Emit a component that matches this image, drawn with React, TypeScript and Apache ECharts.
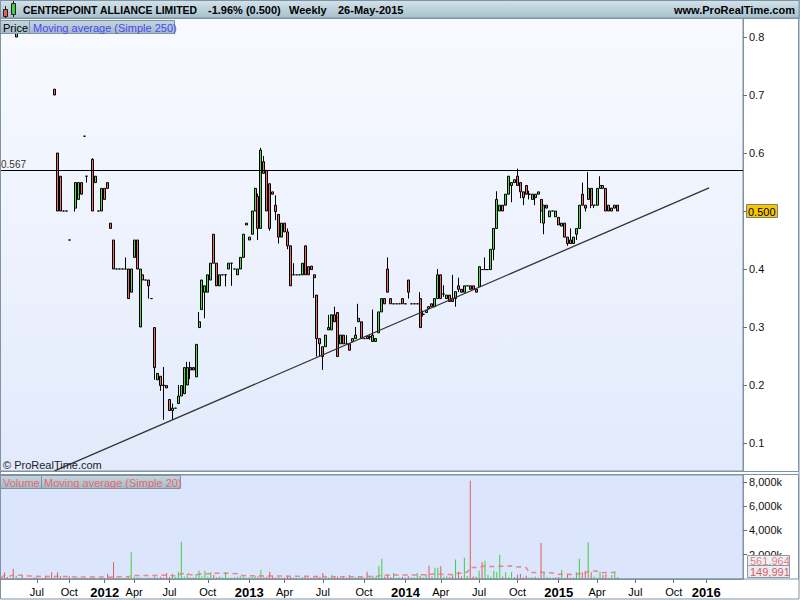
import React, { useEffect, useRef } from 'react';
import * as echarts from 'echarts';

// ---------- data ----------
const N_BARS = 252;
const xTickIndex = [12, 23, 35, 45, 57, 70, 84, 96, 109, 123, 137, 149, 162, 175, 189, 202, 215, 228, 239];
const xTickLabel = ['Jul', 'Oct', '2012', 'Apr', 'Jul', 'Oct', '2013', 'Apr', 'Jul', 'Oct', '2014', 'Apr', 'Jul', 'Oct', '2015', 'Apr', 'Jul', 'Oct', '2016'];
const priceTicks = [0.1, 0.2, 0.3, 0.4, 0.5, 0.6, 0.7, 0.8];
const volumeTicks = [2000, 4000, 6000, 8000];

// [barIndex, open, high, low, close]
const candles: number[][] = [
  [5, 0.800, 0.812, 0.800, 0.807], [18, 0.710, 0.710, 0.700, 0.700], [19, 0.600, 0.600, 0.500, 0.500],
  [20, 0.560, 0.560, 0.500, 0.500], [21, 0.500, 0.500, 0.500, 0.500], [22, 0.500, 0.500, 0.500, 0.500],
  [23, 0.450, 0.450, 0.450, 0.450], [25, 0.505, 0.549, 0.499, 0.549], [26, 0.520, 0.549, 0.520, 0.549],
  [27, 0.549, 0.549, 0.529, 0.529], [28, 0.629, 0.629, 0.629, 0.629], [29, 0.560, 0.560, 0.549, 0.560],
  [31, 0.589, 0.591, 0.500, 0.500], [32, 0.549, 0.560, 0.549, 0.560], [33, 0.500, 0.500, 0.500, 0.500],
  [34, 0.500, 0.539, 0.500, 0.539], [35, 0.539, 0.539, 0.520, 0.520], [36, 0.549, 0.549, 0.539, 0.539],
  [37, 0.479, 0.479, 0.470, 0.470], [38, 0.450, 0.450, 0.400, 0.400], [39, 0.400, 0.400, 0.400, 0.400],
  [40, 0.400, 0.400, 0.400, 0.400], [41, 0.400, 0.400, 0.400, 0.400], [42, 0.400, 0.420, 0.400, 0.400],
  [43, 0.400, 0.400, 0.349, 0.349], [44, 0.360, 0.400, 0.360, 0.400], [45, 0.420, 0.450, 0.420, 0.450],
  [46, 0.450, 0.450, 0.400, 0.400], [47, 0.300, 0.400, 0.300, 0.400], [48, 0.390, 0.390, 0.381, 0.381],
  [49, 0.381, 0.381, 0.381, 0.381], [50, 0.381, 0.381, 0.349, 0.371], [51, 0.349, 0.349, 0.349, 0.349],
  [52, 0.299, 0.299, 0.209, 0.230], [53, 0.209, 0.220, 0.209, 0.220], [54, 0.215, 0.215, 0.190, 0.199],
  [55, 0.200, 0.231, 0.140, 0.199], [56, 0.199, 0.199, 0.195, 0.195], [57, 0.175, 0.175, 0.156, 0.156],
  [58, 0.156, 0.168, 0.140, 0.160], [59, 0.160, 0.160, 0.160, 0.160], [60, 0.168, 0.200, 0.168, 0.181],
  [61, 0.181, 0.199, 0.181, 0.199], [62, 0.185, 0.230, 0.185, 0.230], [63, 0.200, 0.240, 0.200, 0.230],
  [64, 0.230, 0.240, 0.210, 0.226], [65, 0.230, 0.230, 0.226, 0.226], [66, 0.214, 0.270, 0.214, 0.270],
  [67, 0.299, 0.326, 0.299, 0.309], [68, 0.330, 0.381, 0.330, 0.381], [69, 0.360, 0.371, 0.315, 0.371],
  [70, 0.360, 0.390, 0.360, 0.390], [71, 0.381, 0.410, 0.381, 0.410], [72, 0.460, 0.460, 0.410, 0.410],
  [73, 0.410, 0.410, 0.371, 0.371], [74, 0.371, 0.390, 0.371, 0.390], [75, 0.390, 0.390, 0.390, 0.390],
  [76, 0.390, 0.390, 0.370, 0.390], [77, 0.400, 0.410, 0.400, 0.410], [78, 0.410, 0.410, 0.371, 0.410],
  [79, 0.400, 0.400, 0.400, 0.400], [80, 0.390, 0.400, 0.390, 0.400], [81, 0.400, 0.420, 0.400, 0.420],
  [82, 0.420, 0.460, 0.420, 0.460], [83, 0.479, 0.479, 0.476, 0.476], [84, 0.450, 0.455, 0.450, 0.455],
  [85, 0.460, 0.500, 0.460, 0.500], [86, 0.500, 0.540, 0.500, 0.539], [87, 0.525, 0.530, 0.450, 0.470],
  [88, 0.470, 0.609, 0.470, 0.605], [89, 0.585, 0.595, 0.565, 0.565], [90, 0.570, 0.570, 0.500, 0.500],
  [91, 0.547, 0.547, 0.466, 0.470], [92, 0.533, 0.533, 0.529, 0.529], [93, 0.510, 0.527, 0.484, 0.499],
  [94, 0.494, 0.494, 0.444, 0.455], [95, 0.455, 0.479, 0.455, 0.479], [96, 0.479, 0.479, 0.464, 0.464],
  [97, 0.464, 0.470, 0.434, 0.440], [98, 0.440, 0.440, 0.371, 0.371], [99, 0.390, 0.410, 0.390, 0.390],
  [100, 0.390, 0.390, 0.390, 0.390], [101, 0.390, 0.390, 0.390, 0.390], [102, 0.390, 0.410, 0.390, 0.410],
  [103, 0.440, 0.440, 0.390, 0.390], [104, 0.404, 0.404, 0.390, 0.390], [105, 0.405, 0.405, 0.399, 0.399],
  [106, 0.390, 0.390, 0.350, 0.385], [107, 0.355, 0.355, 0.249, 0.280], [108, 0.280, 0.280, 0.249, 0.271],
  [109, 0.266, 0.266, 0.226, 0.249], [110, 0.266, 0.286, 0.266, 0.286], [111, 0.295, 0.321, 0.295, 0.299],
  [112, 0.295, 0.321, 0.295, 0.321], [113, 0.321, 0.335, 0.309, 0.309], [114, 0.325, 0.325, 0.249, 0.249],
  [115, 0.271, 0.286, 0.271, 0.286], [116, 0.286, 0.286, 0.271, 0.271], [117, 0.271, 0.286, 0.271, 0.271],
  [118, 0.271, 0.271, 0.260, 0.260], [119, 0.275, 0.280, 0.275, 0.280], [120, 0.280, 0.300, 0.280, 0.286],
  [121, 0.309, 0.340, 0.309, 0.315], [122, 0.309, 0.309, 0.280, 0.280], [123, 0.280, 0.280, 0.280, 0.280],
  [124, 0.284, 0.284, 0.280, 0.280], [125, 0.283, 0.286, 0.278, 0.283], [126, 0.275, 0.330, 0.275, 0.286],
  [127, 0.275, 0.280, 0.275, 0.280], [128, 0.290, 0.326, 0.290, 0.326], [129, 0.326, 0.349, 0.326, 0.349],
  [130, 0.349, 0.349, 0.340, 0.340], [131, 0.400, 0.420, 0.360, 0.360], [132, 0.349, 0.349, 0.340, 0.340],
  [133, 0.340, 0.340, 0.340, 0.340], [134, 0.340, 0.340, 0.340, 0.340], [135, 0.340, 0.340, 0.340, 0.340],
  [136, 0.349, 0.349, 0.340, 0.340], [137, 0.340, 0.340, 0.340, 0.340], [138, 0.381, 0.381, 0.349, 0.360],
  [139, 0.340, 0.340, 0.340, 0.340], [140, 0.340, 0.340, 0.340, 0.340], [141, 0.340, 0.340, 0.340, 0.340],
  [142, 0.349, 0.360, 0.299, 0.299], [143, 0.322, 0.328, 0.318, 0.322], [144, 0.325, 0.329, 0.325, 0.329],
  [145, 0.335, 0.335, 0.332, 0.332], [146, 0.340, 0.340, 0.335, 0.335], [147, 0.335, 0.349, 0.335, 0.349],
  [148, 0.349, 0.400, 0.349, 0.390], [149, 0.390, 0.390, 0.349, 0.349], [150, 0.357, 0.372, 0.352, 0.357],
  [151, 0.349, 0.355, 0.349, 0.355], [152, 0.355, 0.355, 0.344, 0.344], [153, 0.349, 0.390, 0.344, 0.344],
  [154, 0.349, 0.361, 0.335, 0.361], [155, 0.371, 0.385, 0.360, 0.365], [156, 0.365, 0.365, 0.360, 0.360],
  [157, 0.360, 0.371, 0.360, 0.371], [158, 0.371, 0.371, 0.371, 0.371], [159, 0.371, 0.371, 0.365, 0.365],
  [160, 0.371, 0.371, 0.365, 0.365], [161, 0.365, 0.365, 0.360, 0.360], [162, 0.370, 0.404, 0.370, 0.404],
  [163, 0.399, 0.399, 0.399, 0.399], [164, 0.399, 0.420, 0.399, 0.399], [165, 0.399, 0.399, 0.399, 0.399],
  [166, 0.399, 0.434, 0.399, 0.434], [167, 0.434, 0.470, 0.415, 0.470], [168, 0.470, 0.534, 0.470, 0.520],
  [169, 0.500, 0.510, 0.500, 0.510], [170, 0.510, 0.510, 0.500, 0.500], [171, 0.510, 0.529, 0.510, 0.529],
  [172, 0.529, 0.560, 0.529, 0.560], [173, 0.544, 0.549, 0.515, 0.549], [174, 0.549, 0.554, 0.549, 0.554],
  [175, 0.560, 0.573, 0.544, 0.544], [176, 0.549, 0.549, 0.522, 0.533], [177, 0.533, 0.533, 0.510, 0.523],
  [178, 0.544, 0.544, 0.529, 0.529], [179, 0.529, 0.535, 0.520, 0.529], [180, 0.520, 0.529, 0.520, 0.529],
  [181, 0.529, 0.529, 0.510, 0.523], [182, 0.529, 0.533, 0.529, 0.533], [183, 0.520, 0.520, 0.479, 0.500],
  [184, 0.479, 0.510, 0.460, 0.510], [185, 0.510, 0.510, 0.505, 0.505], [186, 0.490, 0.500, 0.490, 0.500],
  [187, 0.500, 0.500, 0.500, 0.500], [188, 0.490, 0.500, 0.490, 0.500], [189, 0.489, 0.489, 0.476, 0.476],
  [190, 0.474, 0.479, 0.474, 0.479], [191, 0.479, 0.479, 0.455, 0.455], [192, 0.455, 0.455, 0.440, 0.444],
  [193, 0.450, 0.470, 0.444, 0.444], [194, 0.444, 0.455, 0.444, 0.455], [195, 0.460, 0.470, 0.450, 0.470],
  [196, 0.470, 0.510, 0.470, 0.510], [197, 0.529, 0.549, 0.510, 0.510], [198, 0.510, 0.510, 0.499, 0.505],
  [199, 0.520, 0.567, 0.520, 0.539], [200, 0.539, 0.539, 0.505, 0.510], [201, 0.510, 0.510, 0.505, 0.510],
  [202, 0.510, 0.539, 0.510, 0.539], [203, 0.539, 0.560, 0.539, 0.544], [204, 0.544, 0.544, 0.539, 0.539],
  [205, 0.539, 0.539, 0.500, 0.500], [206, 0.510, 0.510, 0.500, 0.500], [207, 0.500, 0.505, 0.500, 0.505],
  [208, 0.505, 0.510, 0.505, 0.510], [209, 0.510, 0.510, 0.500, 0.500],
];

// weekly volume in thousands, index = bar index
const volumes = [
  120, 550, 165, 90, 850, 275, 80, 275, 60, 90,
  70, 137, 137, 60, 80, 275, 90, 550, 120, 550,
  220, 80, 100, 220, 60, 137, 120, 90, 70, 80,
  60, 150, 90, 70, 110, 80, 440, 90, 1375, 120,
  80, 100, 70, 150, 2200, 180, 120, 150, 90, 110,
  130, 80, 200, 150, 180, 120, 500, 160, 440, 150,
  600, 3080, 200, 410, 150, 120, 410, 690, 220, 690,
  180, 550, 330, 150, 200, 120, 550, 130, 110, 150,
  180, 220, 200, 120, 150, 180, 250, 200, 770, 150,
  180, 600, 275, 120, 150, 100, 130, 275, 160, 120,
  110, 90, 160, 200, 120, 100, 150, 220, 180, 500,
  160, 120, 330, 150, 200, 100, 140, 120, 330, 110,
  150, 180, 160, 120, 600, 140, 275, 160, 1100, 1680,
  200, 250, 160, 500, 110, 120, 180, 100, 220, 120,
  140, 500, 260, 150, 410, 1100, 200, 935, 935, 1045,
  180, 220, 160, 300, 1600, 600, 200, 1760, 250, 8100,
  200, 180, 690, 1380, 1500, 330, 180, 690, 550, 2000,
  200, 550, 160, 550, 150, 360, 410, 140, 275, 120,
  150, 180, 130, 2970, 600, 150, 120, 100, 140, 160,
  770, 80, 410, 100, 120, 550, 1680, 550, 690, 3030,
  550, 200, 100, 600, 330, 410, 90, 330, 500, 150,
];

const resistanceLevel = 0.567;
const lastClose = 0.5;
const trendLine: number[][] = [[18, 0.052], [240, 0.54]];
const maPeriod = 20;
const maLabel = '561,964';
const lastVolumeLabel = '149,991';

// ---------- style ----------
const FONT = '"Liberation Sans", Arial, sans-serif';
const UP = '#4cdc4c';
const DOWN = '#ec6a6a';
const FRAME = '#7e93a4';

export default function App() {
  const ref = useRef<HTMLDivElement>(null);

  useEffect(() => {
    if (!ref.current) return;
    const chart = echarts.init(ref.current, undefined, { renderer: 'svg' });

    const categories = Array.from({ length: N_BARS }, (_, i) => String(i));
    const tickMap = new Map<number, string>();
    xTickIndex.forEach((ix, k) => tickMap.set(ix, xTickLabel[k]));

    const candleData = candles.map(([i, o, h, l, c]) => [i, o, c, Math.min(l, o, c), Math.max(h, o, c)]);
    const closeByIdx = new Map<number, number[]>();
    candles.forEach(([i, o, , , c]) => closeByIdx.set(i, [o, c]));

    let prevClose = 0;
    const volData = volumes.map((v, i) => {
      const oc = closeByIdx.get(i);
      let up = false;
      if (oc) {
        up = oc[1] > oc[0] || (oc[1] === oc[0] && oc[1] >= prevClose);
        prevClose = oc[1];
      }
      return { value: [i, v], itemStyle: { color: up ? '#3fcf3f' : '#e45a5a' } };
    });

    const maData = volumes.map((_, i) => {
      const start = Math.max(0, i - maPeriod + 1);
      const win = volumes.slice(start, i + 1);
      return [i, win.reduce((a, b) => a + b, 0) / win.length];
    });

    const legendBoxFill = {
      type: 'linear', x: 0, y: 0, x2: 0, y2: 1,
      colorStops: [{ offset: 0, color: '#c6d5df' }, { offset: 1, color: '#a4bac8' }],
    };

    const graphic: any[] = [
      // header
      {
        type: 'rect', shape: { x: 0, y: 0, width: 800, height: 18 }, z: 90,
        style: {
          fill: { type: 'linear', x: 0, y: 0, x2: 0, y2: 1, colorStops: [{ offset: 0, color: '#d4e3ea' }, { offset: 1, color: '#a6c0cd' }] },
          stroke: FRAME, lineWidth: 1,
        },
      },
      { type: 'line', shape: { x1: 5.5, y1: 6, x2: 5.5, y2: 18 }, style: { stroke: '#222', lineWidth: 1 }, z: 91 },
      { type: 'rect', shape: { x: 3.5, y: 9.5, width: 4, height: 7 }, style: { fill: '#e85c5c', stroke: '#222', lineWidth: 1 }, z: 92 },
      { type: 'line', shape: { x1: 13.5, y1: 1, x2: 13.5, y2: 17 }, style: { stroke: '#222', lineWidth: 1 }, z: 91 },
      { type: 'rect', shape: { x: 11.5, y: 3.5, width: 4, height: 11 }, style: { fill: '#3ed23e', stroke: '#222', lineWidth: 1 }, z: 92 },
      { type: 'text', x: 23, y: 10, z: 92, style: { text: 'CENTREPOINT ALLIANCE LIMITED', fill: '#000', font: `bold 10.4px ${FONT}`, verticalAlign: 'middle' } },
      { type: 'text', x: 208, y: 10, z: 92, style: { text: '-1.96% (0.500)', fill: '#000', font: `bold 11px ${FONT}`, verticalAlign: 'middle' } },
      { type: 'text', x: 289, y: 10, z: 92, style: { text: 'Weekly', fill: '#000', font: `bold 11px ${FONT}`, verticalAlign: 'middle' } },
      { type: 'text', x: 338, y: 10, z: 92, style: { text: '26-May-2015', fill: '#000', font: `bold 11px ${FONT}`, verticalAlign: 'middle' } },
      { type: 'text', x: 795, y: 10, z: 92, style: { text: 'www.ProRealTime.com', fill: '#000', font: `bold 11px ${FONT}`, verticalAlign: 'middle', align: 'right' } },
      // price legend
      { type: 'rect', shape: { x: 0.5, y: 20.5, width: 29, height: 13 }, z: 95, style: { fill: legendBoxFill, stroke: FRAME, lineWidth: 1 } },
      { type: 'text', x: 3, y: 27.5, z: 96, style: { text: 'Price', fill: '#000', font: `11px ${FONT}`, verticalAlign: 'middle' } },
      { type: 'rect', shape: { x: 29.5, y: 20.5, width: 145, height: 13 }, z: 95, style: { fill: legendBoxFill, stroke: FRAME, lineWidth: 1 } },
      { type: 'text', x: 33, y: 27.5, z: 96, style: { text: 'Moving average (Simple 250)', fill: '#4848f2', font: `11px ${FONT}`, verticalAlign: 'middle' } },
      // copyright
      { type: 'text', x: 3, y: 465, z: 96, style: { text: '© ProRealTime.com', fill: '#222', font: `11px ${FONT}`, verticalAlign: 'middle' } },
      // volume legend
      { type: 'rect', shape: { x: 0.5, y: 475.5, width: 41, height: 13 }, z: 95, style: { fill: legendBoxFill, stroke: FRAME, lineWidth: 1 } },
      { type: 'text', x: 3, y: 482.5, z: 96, style: { text: 'Volume', fill: '#e46a6a', font: `11px ${FONT}`, verticalAlign: 'middle' } },
      { type: 'rect', shape: { x: 41.5, y: 475.5, width: 139, height: 13 }, z: 95, style: { fill: legendBoxFill, stroke: FRAME, lineWidth: 1 } },
      { type: 'text', x: 44, y: 482.5, z: 96, style: { text: 'Moving average (Simple 20)', fill: '#e46a6a', font: `11px ${FONT}`, verticalAlign: 'middle' } },
      // volume value tags
      { type: 'rect', shape: { x: 747.5, y: 555.5, width: 42, height: 11 }, z: 95, style: { fill: '#eef1f6', stroke: '#8a9aa8', lineWidth: 1 } },
      { type: 'text', x: 750, y: 561, z: 96, style: { text: maLabel, fill: '#e48080', font: `11px ${FONT}`, verticalAlign: 'middle' } },
      { type: 'rect', shape: { x: 747.5, y: 565.5, width: 42, height: 12 }, z: 97, style: { fill: '#e9edf3', stroke: '#8a9aa8', lineWidth: 1 } },
      { type: 'text', x: 750, y: 571.5, z: 98, style: { text: lastVolumeLabel, fill: '#e05a5a', font: `11px ${FONT}`, verticalAlign: 'middle' } },
      // price tag for last close
      { type: 'rect', shape: { x: 746.5, y: 204.5, width: 31, height: 13 }, z: 95, style: { fill: '#f6c800', stroke: '#7f7f7f', lineWidth: 1 } },
      { type: 'text', x: 748, y: 211.5, z: 96, style: { text: lastClose.toFixed(3), fill: '#000', font: `11px ${FONT}`, verticalAlign: 'middle' } },
      // frames
      { type: 'rect', shape: { x: 0.5, y: 18.5, width: 798, height: 453 }, z: 99, style: { fill: 'none', stroke: FRAME, lineWidth: 1 } },
      { type: 'rect', shape: { x: 0.5, y: 474.5, width: 798, height: 104.5 }, z: 99, style: { fill: 'none', stroke: FRAME, lineWidth: 1 } },
      { type: 'rect', shape: { x: 0.5, y: 0.5, width: 798.5, height: 598.5 }, z: 99, style: { fill: 'none', stroke: FRAME, lineWidth: 1 } },
    ];

    const option: any = {
      animation: false,
      backgroundColor: '#ffffff',
      textStyle: { fontFamily: FONT },
      graphic,
      grid: [
        {
          left: 0, top: 18, width: 743, height: 453, show: true, borderColor: FRAME, borderWidth: 1,
          backgroundColor: { type: 'linear', x: 0, y: 0, x2: 0, y2: 1, colorStops: [{ offset: 0, color: '#f8faff' }, { offset: 1, color: '#e2eafb' }] },
        },
        { left: 0, top: 475, width: 743, height: 104, show: true, borderColor: FRAME, borderWidth: 1, backgroundColor: '#dbe5fb' },
      ],
      xAxis: [
        {
          type: 'category', gridIndex: 0, data: categories, boundaryGap: true,
          axisLine: { show: false }, axisTick: { show: false }, axisLabel: { show: false }, splitLine: { show: false },
        },
        {
          type: 'category', gridIndex: 1, data: categories, boundaryGap: true,
          axisLine: { show: true, lineStyle: { color: FRAME } },
          axisTick: { show: true, alignWithLabel: true, length: 4, interval: (i: number) => tickMap.has(i), lineStyle: { color: '#5d7080' } },
          axisLabel: {
            show: true, interval: (i: number) => tickMap.has(i), margin: 7,
            formatter: (_v: string, i: number) => {
              const t = tickMap.get(i) || '';
              return /^\d{4}$/.test(t) ? `{y|${t}}` : `{m|${t}}`;
            },
            rich: {
              y: { fontWeight: 'bold', fontSize: 13, color: '#000', fontFamily: FONT },
              m: { fontSize: 11, color: '#000', fontFamily: FONT },
            },
          },
          splitLine: { show: false },
        },
      ],
      yAxis: [
        {
          type: 'value', gridIndex: 0, position: 'right', min: 0.0517, max: 0.8328, scale: true,
          axisLine: { show: true, lineStyle: { color: FRAME } },
          axisTick: { show: true, length: 4, customValues: priceTicks, lineStyle: { color: '#5d7080' } },
          axisLabel: { show: true, customValues: priceTicks.filter((v) => Math.abs(v - lastClose) > 1e-9), margin: 6, color: '#111', fontSize: 11, formatter: (v: number) => v.toFixed(1) },
          splitLine: { show: false },
        },
        {
          type: 'value', gridIndex: 1, position: 'right', min: 0, max: 8577,
          axisLine: { show: true, lineStyle: { color: FRAME } },
          axisTick: { show: true, length: 4, customValues: volumeTicks, lineStyle: { color: '#5d7080' } },
          axisLabel: {
            show: true, customValues: volumeTicks, margin: 6, color: '#111', fontSize: 11,
            formatter: (v: number) => `${v.toLocaleString('en-US')}k`,
          },
          splitLine: { show: false },
        },
      ],
      series: [
        {
          type: 'candlestick', xAxisIndex: 0, yAxisIndex: 0,
          dimensions: ['idx', 'open', 'close', 'lowest', 'highest'],
          encode: { x: 0, y: [1, 2, 3, 4] },
          data: candleData,
          barWidth: 2.5,
          itemStyle: { color: UP, color0: DOWN, borderColor: '#000', borderColor0: '#000', borderWidth: 1 },
          markLine: {
            silent: true, symbol: ['none', 'none'], animation: false,
            data: [
              {
                yAxis: resistanceLevel,
                lineStyle: { color: '#000', width: 1, type: 'solid' },
                label: { show: true, position: 'insideStartTop', formatter: String(resistanceLevel), color: '#333', fontSize: 10, distance: 1 },
              },
              [
                { coord: trendLine[0], lineStyle: { color: '#333', width: 1.3, type: 'solid' }, label: { show: false } },
                { coord: trendLine[1] },
              ],
            ],
          },
        },
        {
          type: 'bar', xAxisIndex: 1, yAxisIndex: 1, data: volData, barWidth: 1,
        },
        {
          type: 'line', xAxisIndex: 1, yAxisIndex: 1, data: maData, symbol: 'none',
          lineStyle: { color: '#e87878', width: 1.5, type: [5, 4], opacity: 0.85 },
        },
      ],
    };

    chart.setOption(option);
    return () => chart.dispose();
  }, []);

  return <div ref={ref} style={{ position: 'fixed', left: 0, top: 0, width: 800, height: 600 }} />;
}
